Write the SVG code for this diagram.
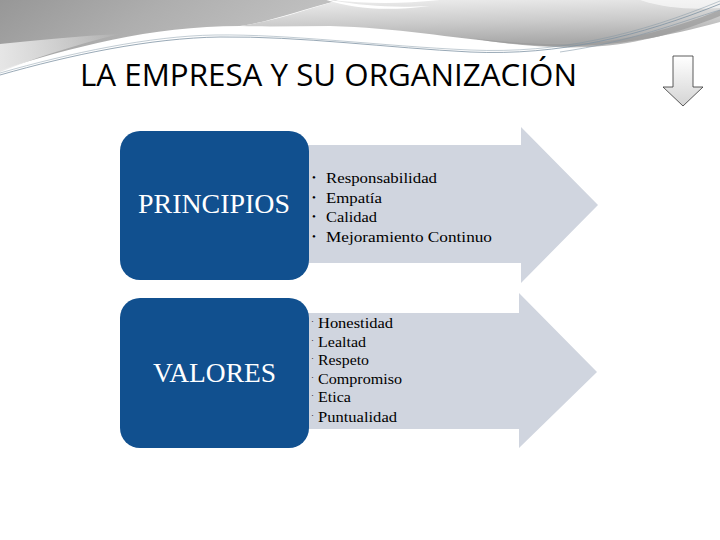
<svg xmlns="http://www.w3.org/2000/svg" width="720" height="540" viewBox="0 0 720 540">
<defs>
<linearGradient id="bgL" x1="0" y1="0" x2="1" y2="0.3">
<stop offset="0" stop-color="#979797"/>
<stop offset="0.45" stop-color="#aeaeae"/>
<stop offset="1" stop-color="#c4c4c4"/>
</linearGradient>
<linearGradient id="bgR" x1="0" y1="0" x2="0.2" y2="1">
<stop offset="0" stop-color="#efefef"/>
<stop offset="0.55" stop-color="#cbcbcb"/>
<stop offset="1" stop-color="#a8a8a8"/>
</linearGradient>
<linearGradient id="wedge" x1="0" y1="0" x2="1" y2="0">
<stop offset="0" stop-color="#e6e6e6"/>
<stop offset="1" stop-color="#ffffff" stop-opacity="0"/>
</linearGradient>
<linearGradient id="dn" x1="0" y1="0" x2="0" y2="1">
<stop offset="0" stop-color="#ffffff"/>
<stop offset="1" stop-color="#d4d4d4"/>
</linearGradient>
<style>
.box{fill:#11508f}
.arr{fill:#d0d5df}
.big{font-family:"Liberation Serif",serif;fill:#ffffff}
.item{font-family:"Liberation Serif",serif;fill:#000000}
.bul{font-family:"Liberation Serif",serif;fill:#000000}
.line{fill:none;stroke:#7f93a3;stroke-width:0.8}
</style>
</defs>
<rect width="720" height="540" fill="#ffffff"/>
<g id="background">
<path d="M0,0 H340 C 300,10 270,22 240,26 C 150,26 70,48 0,70 Z" fill="url(#bgL)"/>
<path d="M0,44 C 40,40 80,36 120,34 C 70,46 30,60 0,72 Z" fill="url(#wedge)"/>
<path d="M340,0 H720 V22 C 660,38 610,48 545,46 C 470,42 410,28 330,26 C 300,26 270,27 240,26 C 280,20 310,8 340,0 Z" fill="url(#bgR)"/>
<path d="M470,38 C 520,44 560,46 600,42 C 650,36 690,22 720,10 V16 C 680,32 640,44 590,47 C 545,49 505,44 470,38 Z" fill="#9a9a9a" opacity="0.7"/>
<path d="M320,-2 C 360,6 390,8 430,6 C 380,12 350,8 320,-2 Z" fill="#ffffff"/>
<path d="M330,0 C 370,4 400,4 440,0 Z" fill="#ffffff"/>
<path d="M640,0 H720 V8 C 690,10 665,8 640,0 Z" fill="#ffffff" opacity="0.6"/>
<path class="line" d="M0,75 C 70,55 150,38 220,37 C 300,36 390,48 470,52 C 560,56 640,36 720,4"/>
<path class="line" d="M0,73 C 70,53 150,36 215,35 C 290,34 380,46 470,50 C 560,54 640,34 720,1" stroke-opacity="0.6"/>
<path class="line" d="M560,52 C 630,42 680,22 720,10" stroke-opacity="0.7"/>
</g>
<text x="80" y="86" font-family="Open Sans, sans-serif" font-size="31" fill="#000000" textLength="497" lengthAdjust="spacingAndGlyphs">LA EMPRESA Y SU ORGANIZACIÓN</text>
<g id="down-arrow">
<path d="M673,56 H693 V87 H703 L683,106 L663,87 H673 Z" fill="url(#dn)" stroke="#333333" stroke-width="0.8"/>
</g>
<g id="connectors">
<path class="arr" d="M300,145 H521 V127 L598,205 L521,283 V263 H300 Z"/>
<path class="arr" d="M300,313 H519 V293 L597,372 L519,448 V429 H300 Z"/>
</g>
<g id="principios">
<rect class="box" x="120" y="131" width="189" height="149" rx="20" ry="20"/>
<text class="big" x="138" y="213" font-size="27" textLength="152" lengthAdjust="spacingAndGlyphs">PRINCIPIOS</text>
</g>
<g id="principios-list">
<text class="bul" font-size="11" x="312" y="181">•</text>
<text class="bul" font-size="11" x="312" y="201">•</text>
<text class="bul" font-size="11" x="312" y="220">•</text>
<text class="bul" font-size="11" x="312" y="240">•</text>
<text class="item" font-size="15" x="326" y="183" textLength="111" lengthAdjust="spacingAndGlyphs">Responsabilidad</text>
<text class="item" font-size="15" x="326" y="203" textLength="56" lengthAdjust="spacingAndGlyphs">Empatía</text>
<text class="item" font-size="15" x="326" y="222" textLength="51" lengthAdjust="spacingAndGlyphs">Calidad</text>
<text class="item" font-size="15" x="326" y="242" textLength="166" lengthAdjust="spacingAndGlyphs">Mejoramiento Continuo</text>
</g>
<g id="valores">
<rect class="box" x="120" y="298" width="189" height="150" rx="20" ry="20"/>
<text class="big" x="153" y="382" font-size="28" textLength="123" lengthAdjust="spacingAndGlyphs">VALORES</text>
</g>
<g id="valores-list">
<text class="bul" font-size="9" x="311" y="324">·</text>
<text class="bul" font-size="9" x="311" y="343">·</text>
<text class="bul" font-size="9" x="311" y="361">·</text>
<text class="bul" font-size="9" x="311" y="380">·</text>
<text class="bul" font-size="9" x="311" y="398">·</text>
<text class="bul" font-size="9" x="311" y="418">·</text>
<text class="item" font-size="14.5" x="318" y="328" textLength="75" lengthAdjust="spacingAndGlyphs">Honestidad</text>
<text class="item" font-size="14.5" x="318" y="347" textLength="48" lengthAdjust="spacingAndGlyphs">Lealtad</text>
<text class="item" font-size="14.5" x="318" y="365" textLength="51" lengthAdjust="spacingAndGlyphs">Respeto</text>
<text class="item" font-size="14.5" x="318" y="384" textLength="84" lengthAdjust="spacingAndGlyphs">Compromiso</text>
<text class="item" font-size="14.5" x="318" y="402" textLength="33" lengthAdjust="spacingAndGlyphs">Etica</text>
<text class="item" font-size="14.5" x="318" y="422" textLength="79" lengthAdjust="spacingAndGlyphs">Puntualidad</text>
</g>
</svg>
